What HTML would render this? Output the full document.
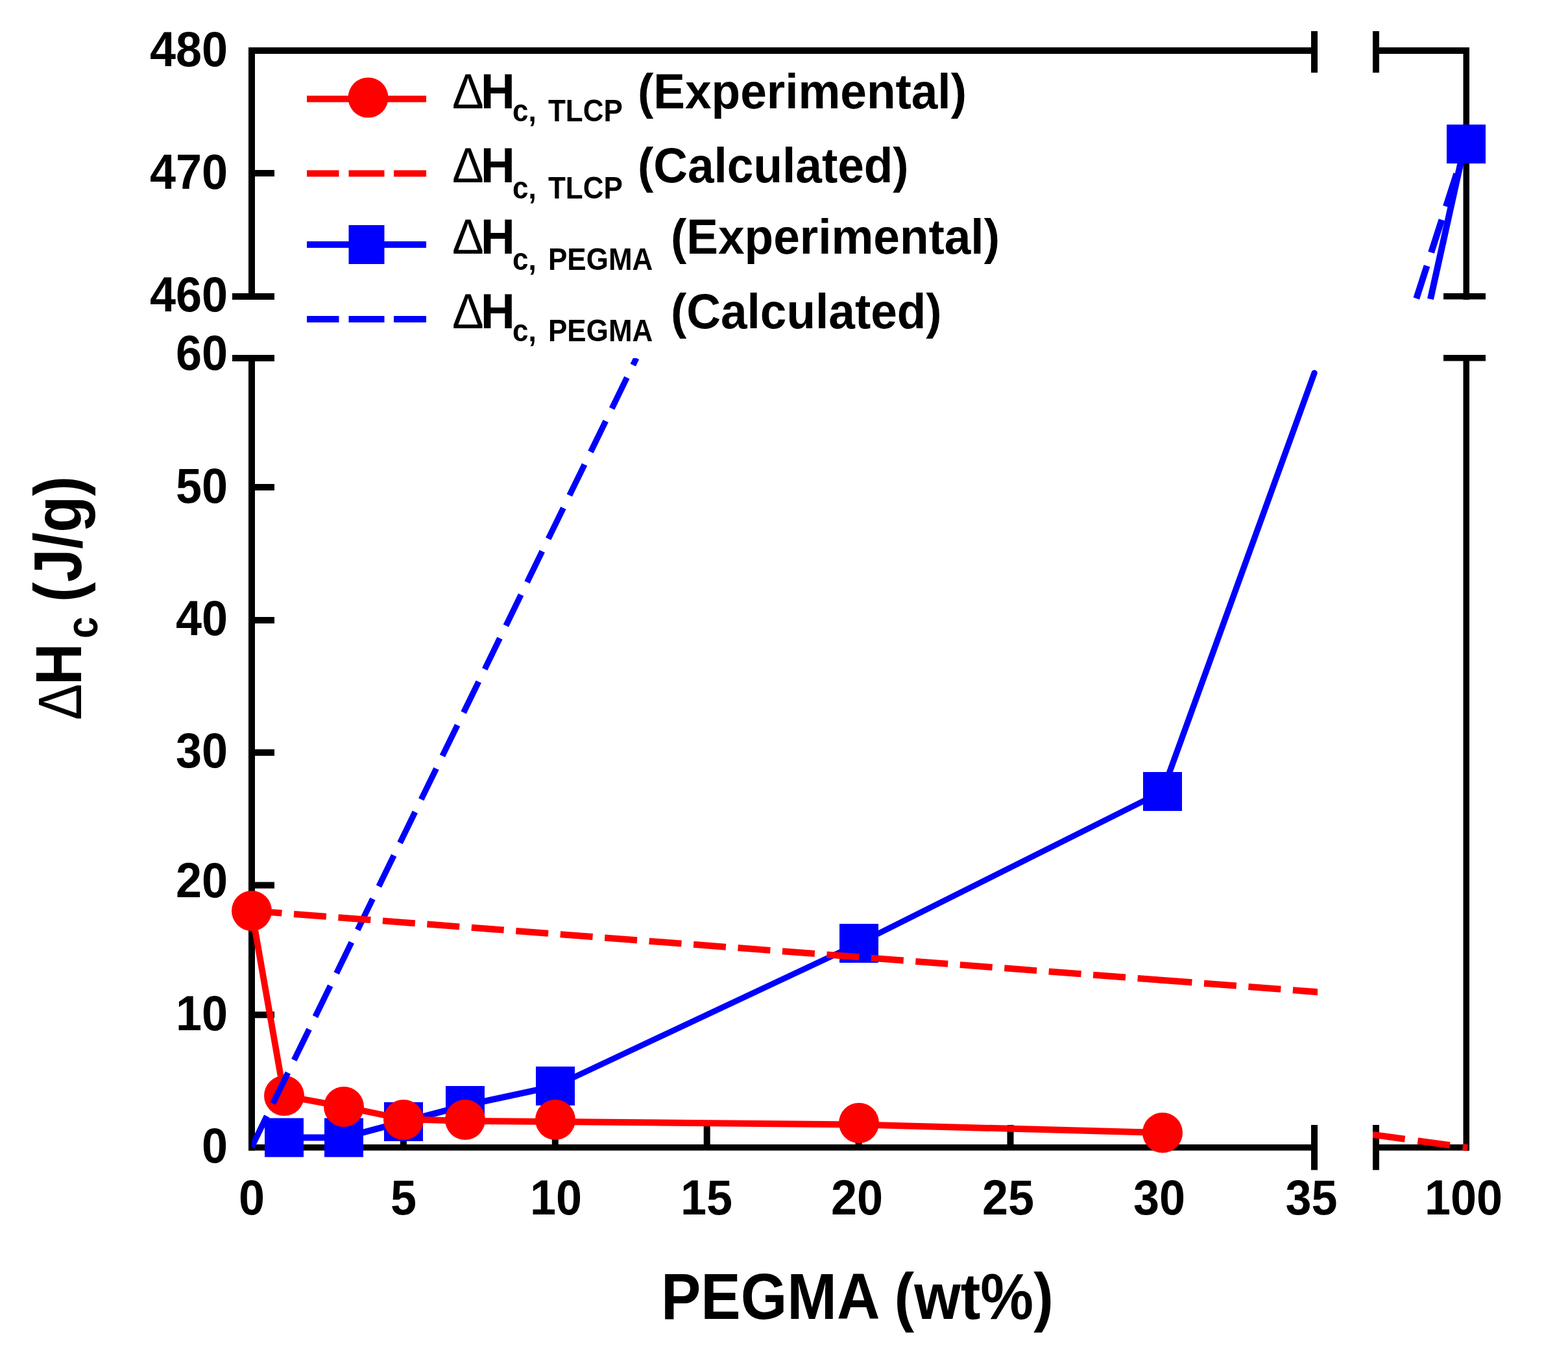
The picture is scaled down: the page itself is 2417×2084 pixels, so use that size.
<!DOCTYPE html>
<html><head><meta charset="utf-8"><title>Chart</title>
<style>
html,body{margin:0;padding:0;background:#fff;}
body{width:2417px;height:2084px;overflow:hidden;}
svg{display:block;}
text{font-family:'Liberation Sans', Arial, sans-serif;font-weight:bold;fill:#000;}
text.n{font-weight:normal;}
</style></head><body>
<svg width="2417" height="2084" viewBox="0 0 2417 2084">
<defs>
<clipPath id="cl"><rect x="388" y="552" width="1643" height="1222"/></clipPath>
<clipPath id="cu"><rect x="2121" y="78" width="145" height="384"/></clipPath>
<clipPath id="cr"><rect x="2116" y="552" width="150" height="1222"/></clipPath>
</defs>
<rect width="2417" height="2084" fill="#fff"/>

<rect x="383" y="73" width="10" height="389" fill="#000"/>
<rect x="383" y="547" width="10" height="1226.5" fill="#000"/>
<rect x="383" y="73" width="1648" height="10" fill="#000"/>
<rect x="383" y="1764" width="1648" height="9.5" fill="#000"/>
<rect x="2021" y="48" width="10" height="64" fill="#000"/>
<rect x="2116" y="48" width="10" height="64" fill="#000"/>
<rect x="2021" y="1734" width="10" height="69.5" fill="#000"/>
<rect x="2116" y="1734" width="10" height="69.5" fill="#000"/>
<rect x="2116" y="73" width="149" height="10" fill="#000"/>
<rect x="2116" y="1764" width="149" height="9.5" fill="#000"/>
<rect x="2255.5" y="73" width="9.5" height="389" fill="#000"/>
<rect x="2255.5" y="547" width="9.5" height="1226.5" fill="#000"/>
<rect x="358" y="452" width="65" height="10" fill="#000"/>
<rect x="358" y="547" width="65" height="10" fill="#000"/>
<rect x="2225" y="452" width="65" height="9.5" fill="#000"/>
<rect x="2225" y="547" width="65" height="9.5" fill="#000"/>
<rect x="393" y="262" width="30" height="10" fill="#000"/>
<rect x="393" y="746" width="30" height="10" fill="#000"/>
<rect x="393" y="951" width="30" height="10" fill="#000"/>
<rect x="393" y="1155" width="30" height="10" fill="#000"/>
<rect x="393" y="1359.5" width="30" height="10.0" fill="#000"/>
<rect x="393" y="1559.3" width="30" height="10.0" fill="#000"/>
<rect x="616.9" y="1734" width="10.0" height="30" fill="#000"/>
<rect x="850.8" y="1734" width="10.0" height="30" fill="#000"/>
<rect x="1084.7" y="1734" width="10.0" height="30" fill="#000"/>
<rect x="1318.6" y="1734" width="10.0" height="30" fill="#000"/>
<rect x="1552.5" y="1734" width="10.0" height="30" fill="#000"/>
<rect x="1786.4" y="1734" width="10.0" height="30" fill="#000"/>
<line x1="438" y1="1753.5" x2="530" y2="1753.5" stroke="#0000ff" stroke-width="10.0" stroke-linecap="round"/><line x1="530" y1="1753.5" x2="622" y2="1729" stroke="#0000ff" stroke-width="9.66" stroke-linecap="round"/><line x1="622" y1="1729" x2="717" y2="1704" stroke="#0000ff" stroke-width="9.67" stroke-linecap="round"/><line x1="717" y1="1704" x2="856" y2="1674" stroke="#0000ff" stroke-width="9.77" stroke-linecap="round"/><line x1="856" y1="1674" x2="1324" y2="1454" stroke="#0000ff" stroke-width="9.05" stroke-linecap="round"/><line x1="1324" y1="1454" x2="1792" y2="1220" stroke="#0000ff" stroke-width="8.94" stroke-linecap="round"/><line x1="1792" y1="1220" x2="2026" y2="575" stroke="#0000ff" stroke-width="9.4" stroke-linecap="round"/>
<rect x="408" y="1723.5" width="60" height="60.0" fill="#0000ff"/>
<rect x="500" y="1723.5" width="60" height="60.0" fill="#0000ff"/>
<rect x="592" y="1699" width="60" height="60" fill="#0000ff"/>
<rect x="687" y="1674" width="60" height="60" fill="#0000ff"/>
<rect x="826" y="1644" width="60" height="60" fill="#0000ff"/>
<rect x="1294" y="1424" width="60" height="60" fill="#0000ff"/>
<rect x="1762" y="1190" width="60" height="60" fill="#0000ff"/>
<line x1="388" y1="1404" x2="438" y2="1689" stroke="#ff0000" stroke-width="9.85" stroke-linecap="round"/><line x1="438" y1="1689" x2="530" y2="1706" stroke="#ff0000" stroke-width="9.83" stroke-linecap="round"/><line x1="530" y1="1706" x2="622" y2="1725" stroke="#ff0000" stroke-width="9.79" stroke-linecap="round"/><line x1="622" y1="1725" x2="717" y2="1728" stroke="#ff0000" stroke-width="10.0" stroke-linecap="round"/><line x1="717" y1="1728" x2="856" y2="1729" stroke="#ff0000" stroke-width="10.0" stroke-linecap="round"/><line x1="856" y1="1729" x2="1324" y2="1733.5" stroke="#ff0000" stroke-width="10.0" stroke-linecap="round"/><line x1="1324" y1="1733.5" x2="1792" y2="1746" stroke="#ff0000" stroke-width="10.0" stroke-linecap="round"/>
<circle cx="388" cy="1404" r="31" fill="#ff0000"/>
<circle cx="438" cy="1689" r="31" fill="#ff0000"/>
<circle cx="530" cy="1706" r="31" fill="#ff0000"/>
<circle cx="622" cy="1726" r="31" fill="#ff0000"/>
<circle cx="717" cy="1726" r="31" fill="#ff0000"/>
<circle cx="856" cy="1726" r="31" fill="#ff0000"/>
<circle cx="1324" cy="1731" r="31" fill="#ff0000"/>
<circle cx="1792" cy="1746" r="31" fill="#ff0000"/>
<g clip-path="url(#cl)"><line x1="388" y1="1768" x2="981" y2="552" stroke="#0000ff" stroke-width="9.2" stroke-dasharray="53 21.5"/></g>
<g clip-path="url(#cl)"><line x1="388" y1="1404" x2="1792" y2="1510.9" stroke="#ff0000" stroke-width="10" stroke-dasharray="50 18.65" stroke-dashoffset="3.46"/><line x1="1790" y1="1510.75" x2="2040" y2="1529.8" stroke="#ff0000" stroke-width="10" stroke-dasharray="50 18.65" stroke-dashoffset="2.5"/></g>
<g clip-path="url(#cr)"><line x1="2116" y1="1749" x2="2262" y2="1769" stroke="#ff0000" stroke-width="10" stroke-dasharray="50 20"/></g>
<g clip-path="url(#cu)"><line x1="2258" y1="222" x2="2205" y2="461" stroke="#0000ff" stroke-width="10"/><line x1="2260" y1="222" x2="2183" y2="461" stroke="#0000ff" stroke-width="10" stroke-dasharray="53 21.5" stroke-dashoffset="26.3"/></g>
<rect x="2230" y="192" width="60" height="60" fill="#0000ff"/>
<text x="351" y="102" font-size="72" text-anchor="end" transform="translate(0 102) scale(1 1.05) translate(0 -102)">480</text>
<text x="351" y="291" font-size="72" text-anchor="end" transform="translate(0 291) scale(1 1.05) translate(0 -291)">470</text>
<text x="351" y="480.5" font-size="72" text-anchor="end" transform="translate(0 480.5) scale(1 1.05) translate(0 -480.5)">460</text>
<text x="351" y="570.5" font-size="72" text-anchor="end" transform="translate(0 570.5) scale(1 1.05) translate(0 -570.5)">60</text>
<text x="351" y="775" font-size="72" text-anchor="end" transform="translate(0 775) scale(1 1.05) translate(0 -775)">50</text>
<text x="351" y="979" font-size="72" text-anchor="end" transform="translate(0 979) scale(1 1.05) translate(0 -979)">40</text>
<text x="351" y="1183.5" font-size="72" text-anchor="end" transform="translate(0 1183.5) scale(1 1.05) translate(0 -1183.5)">30</text>
<text x="351" y="1383.5" font-size="72" text-anchor="end" transform="translate(0 1383.5) scale(1 1.05) translate(0 -1383.5)">20</text>
<text x="351" y="1588" font-size="72" text-anchor="end" transform="translate(0 1588) scale(1 1.05) translate(0 -1588)">10</text>
<text x="351" y="1792.5" font-size="72" text-anchor="end" transform="translate(0 1792.5) scale(1 1.05) translate(0 -1792.5)">0</text>
<text x="388" y="1872" font-size="72" text-anchor="middle" transform="translate(0 1872) scale(1 1.05) translate(0 -1872)">0</text>
<text x="622" y="1872" font-size="72" text-anchor="middle" transform="translate(0 1872) scale(1 1.05) translate(0 -1872)">5</text>
<text x="857" y="1872" font-size="72" text-anchor="middle" transform="translate(0 1872) scale(1 1.05) translate(0 -1872)">10</text>
<text x="1089" y="1872" font-size="72" text-anchor="middle" transform="translate(0 1872) scale(1 1.05) translate(0 -1872)">15</text>
<text x="1321" y="1872" font-size="72" text-anchor="middle" transform="translate(0 1872) scale(1 1.05) translate(0 -1872)">20</text>
<text x="1554" y="1872" font-size="72" text-anchor="middle" transform="translate(0 1872) scale(1 1.05) translate(0 -1872)">25</text>
<text x="1787" y="1872" font-size="72" text-anchor="middle" transform="translate(0 1872) scale(1 1.05) translate(0 -1872)">30</text>
<text x="2021.5" y="1872" font-size="72" text-anchor="middle" transform="translate(0 1872) scale(1 1.05) translate(0 -1872)">35</text>
<text x="2256" y="1872" font-size="72" text-anchor="middle" transform="translate(0 1872) scale(1 1.05) translate(0 -1872)">100</text>
<rect x="473" y="147.5" width="184" height="10.0" fill="#ff0000"/>
<circle cx="567.5" cy="150.5" r="31" fill="#ff0000"/>
<text x="697" y="167.5" font-size="73" text-anchor="start" transform="translate(0 167.5) scale(1 1.05) translate(0 -167.5)" class="n">Δ</text>
<text x="741" y="167.5" font-size="73" text-anchor="start" transform="translate(0 167.5) scale(1 1.05) translate(0 -167.5)">H</text>
<text x="790" y="187.5" font-size="44" text-anchor="start" transform="translate(0 187.5) scale(1 1.1) translate(0 -187.5)">c,</text>
<text x="845" y="187.5" font-size="44" text-anchor="start" transform="translate(0 187.5) scale(1 1.1) translate(0 -187.5)">TLCP</text>
<text x="983" y="167.5" font-size="73" text-anchor="start" transform="translate(0 167.5) scale(1 1.05) translate(0 -167.5)">(Experimental)</text>
<rect x="473" y="262.4" width="49.5" height="10.0" fill="#ff0000"/>
<rect x="537.5" y="262.4" width="55.0" height="10.0" fill="#ff0000"/>
<rect x="607" y="262.4" width="50" height="10.0" fill="#ff0000"/>
<text x="697" y="281" font-size="73" text-anchor="start" transform="translate(0 281) scale(1 1.05) translate(0 -281)" class="n">Δ</text>
<text x="741" y="281" font-size="73" text-anchor="start" transform="translate(0 281) scale(1 1.05) translate(0 -281)">H</text>
<text x="790" y="306" font-size="44" text-anchor="start" transform="translate(0 306) scale(1 1.1) translate(0 -306)">c,</text>
<text x="845" y="306" font-size="44" text-anchor="start" transform="translate(0 306) scale(1 1.1) translate(0 -306)">TLCP</text>
<text x="983" y="281" font-size="73" text-anchor="start" transform="translate(0 281) scale(1 1.05) translate(0 -281)">(Calculated)</text>
<rect x="473" y="372" width="184" height="10" fill="#0000ff"/>
<rect x="537.5" y="347" width="55.0" height="60" fill="#0000ff"/>
<text x="697" y="391.5" font-size="73" text-anchor="start" transform="translate(0 391.5) scale(1 1.05) translate(0 -391.5)" class="n">Δ</text>
<text x="741" y="391.5" font-size="73" text-anchor="start" transform="translate(0 391.5) scale(1 1.05) translate(0 -391.5)">H</text>
<text x="790" y="416.5" font-size="44" text-anchor="start" transform="translate(0 416.5) scale(1 1.1) translate(0 -416.5)">c,</text>
<text x="845" y="416.5" font-size="44" text-anchor="start" transform="translate(0 416.5) scale(1 1.1) translate(0 -416.5)">PEGMA</text>
<text x="1034" y="391.5" font-size="73" text-anchor="start" transform="translate(0 391.5) scale(1 1.05) translate(0 -391.5)">(Experimental)</text>
<rect x="473" y="487" width="49.5" height="10" fill="#0000ff"/>
<rect x="537.5" y="487" width="55.0" height="10" fill="#0000ff"/>
<rect x="607" y="487" width="50" height="10" fill="#0000ff"/>
<text x="697" y="506" font-size="73" text-anchor="start" transform="translate(0 506) scale(1 1.05) translate(0 -506)" class="n">Δ</text>
<text x="741" y="506" font-size="73" text-anchor="start" transform="translate(0 506) scale(1 1.05) translate(0 -506)">H</text>
<text x="790" y="526" font-size="44" text-anchor="start" transform="translate(0 526) scale(1 1.1) translate(0 -526)">c,</text>
<text x="845" y="526" font-size="44" text-anchor="start" transform="translate(0 526) scale(1 1.1) translate(0 -526)">PEGMA</text>
<text x="1034" y="506" font-size="73" text-anchor="start" transform="translate(0 506) scale(1 1.05) translate(0 -506)">(Calculated)</text>
<text x="1019" y="2033" font-size="92" text-anchor="start" transform="translate(0 2033) scale(1 1.08) translate(0 -2033)">PEGMA (wt%)</text>
<g transform="translate(125 1110) rotate(-90) scale(1 1.13)"><text x="0" y="0" font-size="84" class="n">Δ</text><text x="54" y="0" font-size="89">H</text><text x="126" y="22" font-size="60">c</text><text x="182" y="0" font-size="92">(J/g)</text></g>
</svg></body></html>
